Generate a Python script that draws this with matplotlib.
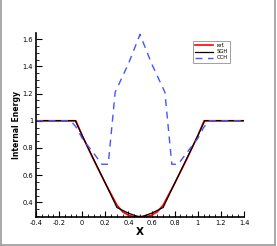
import numpy as np
import matplotlib.pyplot as plt
from matplotlib.lines import Line2D
from matplotlib.ticker import MultipleLocator, FuncFormatter

# reference solution
x_ref = [-0.4, -0.055, 0.0, 0.1, 0.2, 0.3, 0.35, 0.4, 0.44, 0.5, 0.56, 0.6, 0.65, 0.7, 0.8, 0.9, 1.0, 1.055, 1.4]
e_ref = [1.0, 1.0, 0.89, 0.71, 0.54, 0.38, 0.33, 0.305, 0.296, 0.296, 0.296, 0.305, 0.33, 0.38, 0.54, 0.71, 0.89, 1.0, 1.0]

# SGH
x_sgh = [-0.4, -0.06, 0.0, 0.1, 0.2, 0.3, 0.4, 0.5, 0.6, 0.7, 0.8, 0.9, 1.0, 1.06, 1.4]
e_sgh = [1.0, 1.0, 0.89, 0.715, 0.54, 0.362, 0.32, 0.29, 0.32, 0.362, 0.54, 0.715, 0.89, 1.0, 1.0]

# CCH
x_cch = [-0.4, -0.1, -0.05, 0.0, 0.1, 0.17, 0.225, 0.285, 0.4, 0.5, 0.6, 0.715, 0.775, 0.83, 0.9, 1.0, 1.05, 1.1, 1.4]
e_cch = [1.0, 1.0, 0.95, 0.87, 0.76, 0.68, 0.68, 1.21, 1.42, 1.635, 1.42, 1.21, 0.68, 0.68, 0.76, 0.87, 0.95, 1.0, 1.0]

fig = plt.figure(figsize=(2.77, 2.46), dpi=100)
ax = fig.add_axes([0.13, 0.1167, 0.751, 0.749])

ax.plot(x_ref, e_ref, color='red', lw=1.2, label='ref.')
ax.plot(x_sgh, e_sgh, color='black', lw=0.9, label='SGH')
ax.plot(x_cch, e_cch, color='#4455ff', lw=1.0, ls=(0, (5, 4)), label='CCH')

ax.set_xlim(-0.4, 1.4)
ax.set_ylim(0.29, 1.645)
ax.spines['top'].set_visible(False)
ax.spines['right'].set_visible(False)
ax.spines['left'].set_linewidth(1.2)
ax.spines['bottom'].set_linewidth(1.2)

ax.xaxis.set_major_locator(MultipleLocator(0.2))
ax.xaxis.set_minor_locator(MultipleLocator(0.05))
ax.yaxis.set_major_locator(MultipleLocator(0.2))
ax.yaxis.set_minor_locator(MultipleLocator(0.05))
fmt = FuncFormatter(lambda v, p: ('%g' % round(v, 2)))
ax.xaxis.set_major_formatter(fmt)
ax.yaxis.set_major_formatter(fmt)
ax.tick_params(which='major', direction='in', length=4, width=0.8, labelsize=4.8, pad=2)
ax.tick_params(which='minor', direction='in', length=2, width=0.6)

ax.set_xlabel('X', fontsize=7.5, fontweight='bold', labelpad=1)
ax.set_ylabel('Internal Energy', fontsize=5.6, fontweight='bold', labelpad=1)

leg = ax.legend(loc='upper left', bbox_to_anchor=(0.74, 0.97), fontsize=3.8,
                frameon=True, fancybox=False, edgecolor='#888888',
                handlelength=3.5, borderpad=0.4, labelspacing=0.2, handletextpad=0.6)
leg.get_frame().set_linewidth(0.7)

# figure border (left, right, bottom)
gray = '#999999'
fig.add_artist(Line2D([0.004, 0.004], [0.004, 1.0], color=gray, lw=1.2, transform=fig.transFigure))
fig.add_artist(Line2D([0.994, 0.994], [0.004, 1.0], color=gray, lw=1.2, transform=fig.transFigure))
fig.add_artist(Line2D([0.004, 0.994], [0.004, 0.004], color=gray, lw=1.2, transform=fig.transFigure))

fig.savefig('out.png', dpi=100)
